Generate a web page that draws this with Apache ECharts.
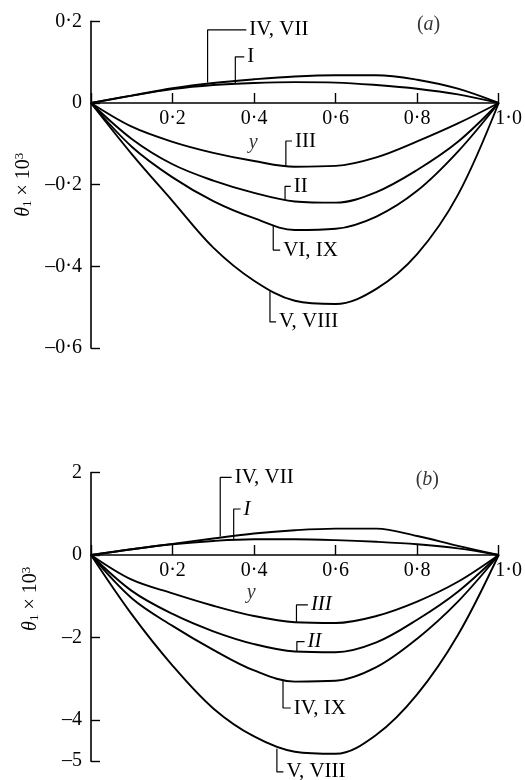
<!DOCTYPE html>
<html><head><meta charset="utf-8">
<script src="https://cdn.jsdelivr.net/npm/echarts@6/dist/echarts.min.js"></script>
<style>html,body{margin:0;padding:0;background:#fff}#c{width:525px;height:780px}</style>
</head><body><div id="c"></div>
<script>
// abscissa y (0..1)
const ys = [0, 0.1, 0.2, 0.3, 0.4, 0.5, 0.6, 0.7, 0.8, 0.9, 1.0];

// panel (a): theta1 x 10^3
const a_IV_VII = [0, 0.018, 0.036, 0.049, 0.058, 0.065, 0.068, 0.068, 0.057, 0.035, 0];
const a_I      = [0, 0.018, 0.034, 0.044, 0.049, 0.051, 0.050, 0.044, 0.035, 0.021, 0];
const a_III    = [0, -0.058, -0.095, -0.122, -0.142, -0.156, -0.154, -0.133, -0.094, -0.05, 0];
const a_II     = [0, -0.088, -0.15, -0.19, -0.22, -0.241, -0.244, -0.218, -0.164, -0.095, 0];
const a_VI_IX  = [0, -0.107, -0.182, -0.24, -0.282, -0.311, -0.308, -0.278, -0.215, -0.119, 0];
const a_V_VIII = [0, -0.125, -0.24, -0.354, -0.435, -0.484, -0.492, -0.455, -0.37, -0.225, 0];

// panel (b)
const b_IV_VII = [0, 0.14, 0.27, 0.40, 0.52, 0.60, 0.64, 0.64, 0.46, 0.22, 0];
const b_I      = [0, 0.14, 0.26, 0.34, 0.38, 0.38, 0.36, 0.32, 0.26, 0.16, 0];
const b_III    = [0, -0.6, -0.93, -1.23, -1.48, -1.63, -1.65, -1.48, -1.13, -0.65, 0];
const b_II     = [0, -0.87, -1.43, -1.85, -2.16, -2.34, -2.36, -2.12, -1.57, -0.89, 0];
const b_IV_IX  = [0, -1.05, -1.72, -2.3, -2.8, -3.07, -3.05, -2.72, -2.03, -1.13, 0];
const b_V_VIII = [0, -1.44, -2.68, -3.72, -4.4, -4.77, -4.82, -4.36, -3.38, -1.94, 0];

// tick values
const xTicks = [0.2, 0.4, 0.6, 0.8, 1.0];
const aTicks = [0.2, 0, -0.2, -0.4, -0.6];
const bTicks = [2, 0, -2, -4, -5];

// curve labels with leader lines (data coordinates)
const annA = [
  {text:'IV, VII', x:0.286, from:0.05,   to:0.179,  end:0.381},
  {text:'I',       x:0.354, from:0.048,  to:0.113,  end:0.376},
  {text:'III',     x:0.478, from:-0.155, to:-0.093, end:0.493},
  {text:'II',      x:0.476, from:-0.238, to:-0.204, end:0.49},
  {text:'VI, IX',  x:0.447, from:-0.3,   to:-0.36,  end:0.464},
  {text:'V, VIII', x:0.439, from:-0.46,  to:-0.536, end:0.454}
];
const annB = [
  {text:'IV, VII', x:0.317, from:0.45,  to:1.88,  end:0.345},
  {text:'I',       x:0.35,  from:0.37,  to:1.115, end:0.367, italic:true},
  {text:'III',     x:0.504, from:-1.63, to:-1.21, end:0.532, italic:true},
  {text:'II',      x:0.505, from:-2.35, to:-2.1,  end:0.524, italic:true},
  {text:'IV, IX',  x:0.471, from:-3.03, to:-3.71, end:0.49},
  {text:'V, VIII', x:0.456, from:-4.7,  to:-5.26, end:0.472}
];

const SERIF = "'Liberation Serif','Times New Roman',serif";
const FS = 20;   // tick labels
const LFS = 21;  // curve labels

function fmtA(v){ if (Math.abs(v) < 1e-9) return '0'; return (v<0?'\u2013':'') + Math.abs(v).toFixed(1).replace('.', '\u00b7'); }
function fmtB(v){ if (Math.abs(v) < 1e-9) return '0'; return (v<0?'\u2013':'') + Math.abs(v); }
function fmtX(v){ if (Math.abs(v) < 1e-9) return ''; const s = v.toFixed(1).replace('.', '\u00b7'); return Math.abs(v-1)<1e-9 ? '{r|'+s+'}' : s; }

const nameRich = {
  t:{fontFamily:SERIF, fontSize:20, fontStyle:'italic', color:'#000'},
  s:{fontFamily:SERIF, fontSize:13, color:'#000', verticalAlign:'bottom', padding:[8,0,0,0]},
  n:{fontFamily:SERIF, fontSize:20, color:'#000'},
  p:{fontFamily:SERIF, fontSize:13, color:'#000', verticalAlign:'top', padding:[0,0,8,0]}
};
const yName = '{t|\u03b8}{s|1}{n| \u00d7 10}{p|3}';

const grids = [
  {left:91, top:21.3, width:412, height:326.8},
  {left:91, top:472.5, width:412, height:288.7}
];
const yRange = [[-0.6, 0.2], [-5, 2]];

function xAxis(gi){
  const g = grids[gi], r = yRange[gi];
  const off = -g.height * (0 - r[0]) / (r[1] - r[0]);   // put the axis on y = 0
  return {type:'value', gridIndex:gi, min:0, max:1, interval:0.2, position:'bottom', offset:off,
    axisLine:{onZero:false, lineStyle:{color:'#000', width:1.6}},
    axisTick:{inside:true, length:10, lineStyle:{color:'#000', width:1.4}},
    axisLabel:{margin:6, color:'#000', fontFamily:SERIF, fontSize:FS, formatter:fmtX,
      rich:{r:{fontFamily:SERIF, fontSize:FS, color:'#000', padding:[0,0,0,20]}}},
    splitLine:{show:false}};
}
function yAxis(gi, ticks, fmt, shift){
  return {type:'value', gridIndex:gi, min:yRange[gi][0], max:yRange[gi][1],
    axisLine:{show:true, onZero:false, lineStyle:{color:'#000', width:1.6}},
    axisTick:{show:true, inside:true, length:9, customValues:ticks, lineStyle:{color:'#000', width:1.4}},
    axisLabel:{margin:9, color:'#000', fontFamily:SERIF, fontSize:FS, formatter:fmt, customValues:ticks},
    splitLine:{show:false},
    name:yName, nameLocation:'middle', nameRotate:90, nameGap:50,
    nameTextStyle:{rich:nameRich, padding:[0,0,0,shift]}};
}

function curve(gi, vals){
  return {type:'line', xAxisIndex:gi, yAxisIndex:gi, data: ys.map((x,i)=>[x, vals[i]]),
    smooth:0.35, symbol:'none', silent:true, z:3,
    lineStyle:{color:'#000', width:1.9}};
}
function leader(gi, a){
  return {type:'line', xAxisIndex:gi, yAxisIndex:gi, clip:false, silent:true, symbol:'none',
    data:[[a.x, a.from],[a.x, a.to],[a.end, a.to]],
    lineStyle:{color:'#000', width:1.2},
    endLabel:{show:true, formatter:a.text, color:'#000', fontFamily:SERIF, fontSize:LFS,
      fontStyle:a.italic?'italic':'normal', distance:3}};
}
function textMark(gi, x, y, txt, rich){
  return {type:'scatter', xAxisIndex:gi, yAxisIndex:gi, clip:false, silent:true,
    data:[[x,y]], symbolSize:1, itemStyle:{color:'rgba(0,0,0,0)'},
    label:{show:true, position:'inside', formatter:txt, color:'#000', fontFamily:SERIF, fontSize:FS, rich:rich||{}}};
}

const italicRich = {i:{fontFamily:SERIF, fontSize:FS, fontStyle:'italic', color:'#000'}};

const series = [
  curve(0, a_IV_VII), curve(0, a_I), curve(0, a_III), curve(0, a_II), curve(0, a_VI_IX), curve(0, a_V_VIII),
  curve(1, b_IV_VII), curve(1, b_I), curve(1, b_III), curve(1, b_II), curve(1, b_IV_IX), curve(1, b_V_VIII)
];
annA.forEach(a => series.push(leader(0, a)));
annB.forEach(a => series.push(leader(1, a)));
series.push(textMark(0, 0.398, -0.098, '{i|y}', italicRich));
series.push(textMark(1, 0.393, -0.92, '{i|y}', italicRich));
series.push(textMark(0, 0.828, 0.191, '({i|a})', italicRich));
series.push(textMark(1, 0.825, 1.82, '({i|b})', italicRich));

const chart = echarts.init(document.getElementById('c'), null, {renderer:'canvas'});
chart.setOption({
  animation:false,
  backgroundColor:'#fff',
  grid:grids,
  xAxis:[xAxis(0), xAxis(1)],
  yAxis:[yAxis(0, aTicks, fmtA, 0), yAxis(1, bTicks, fmtB, 36)],
  series: series
});
</script>
</body></html>
